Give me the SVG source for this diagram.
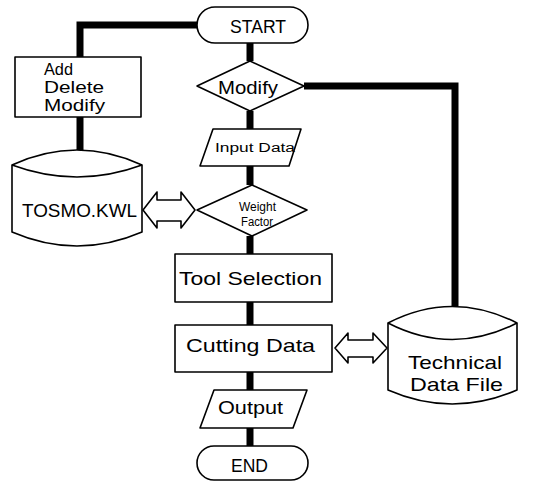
<svg xmlns="http://www.w3.org/2000/svg" width="540" height="481" viewBox="0 0 540 481">
  <style>
    .shape { fill: #ffffff; stroke: #000000; stroke-width: 1.6; stroke-linejoin: round; }
    .flow { fill: none; stroke: #000000; stroke-width: 7; stroke-linecap: butt; stroke-linejoin: miter; }
    .lbl { font-family: "Liberation Sans", Arial, sans-serif; fill: #000000; font-size: 19px; }
    .mid { font-size: 16px; }
    .sm { font-size: 12.5px; }
  </style>
  <rect width="540" height="481" fill="#ffffff"/>

  <!-- thick flow lines -->
  <g id="connectors">
    <polyline class="flow" points="199,25 80,25 80,57"/>
    <line class="flow" x1="80" y1="117" x2="80" y2="151"/>
    <line class="flow" x1="250" y1="43" x2="250" y2="61"/>
    <polyline class="flow" points="304,86 455,86 455,306"/>
    <line class="flow" x1="250" y1="111" x2="250" y2="129"/>
    <line class="flow" x1="250" y1="166" x2="250" y2="185"/>
    <line class="flow" x1="250" y1="236" x2="250" y2="254"/>
    <line class="flow" x1="250" y1="302" x2="250" y2="325"/>
    <line class="flow" x1="250" y1="372" x2="250" y2="390"/>
    <line class="flow" x1="250" y1="428" x2="250" y2="446"/>
    <!-- hollow two-way data arrows -->
    <path class="shape" d="M143,210 L157,192 L157,200 L181,200 L181,192 L195,210 L181,228 L181,221 L157,221 L157,228 Z"/>
    <path class="shape" d="M335,348 L348,333 L348,340 L373,340 L373,333 L387,348 L373,363 L373,357 L348,357 L348,363 Z"/>
  </g>

  <g id="start">
    <rect class="shape" x="197" y="7" width="111" height="36" rx="18" ry="18"/>
    <text class="lbl" x="230" y="33" textLength="56" lengthAdjust="spacingAndGlyphs">START</text>
  </g>

  <g id="edit-box">
    <rect class="shape" x="15" y="57" width="126" height="60"/>
    <text class="lbl mid" x="44" y="75" textLength="29" lengthAdjust="spacingAndGlyphs">Add</text>
    <text class="lbl mid" x="44" y="93" textLength="60" lengthAdjust="spacingAndGlyphs">Delete</text>
    <text class="lbl mid" x="44" y="111" textLength="61" lengthAdjust="spacingAndGlyphs">Modify</text>
  </g>

  <g id="modify">
    <polygon class="shape" points="197,86 250,61 304,86 250,111"/>
    <text class="lbl" x="218" y="94" textLength="60" lengthAdjust="spacingAndGlyphs">Modify</text>
  </g>

  <g id="input-data">
    <polygon class="shape" points="213,129 301,129 289,166 200,166"/>
    <text class="lbl sm" x="215" y="152" textLength="80" lengthAdjust="spacingAndGlyphs">Input Data</text>
  </g>

  <g id="tosmo">
    <path class="shape" d="M12,165 Q77,135 142,165 L142,232 Q77,260 12,232 Z"/>
    <path class="shape" fill="none" d="M12,165 Q77,189 142,165"/>
    <text class="lbl" x="22" y="217" textLength="115" lengthAdjust="spacingAndGlyphs">TOSMO.KWL</text>
  </g>

  <g id="weight-factor">
    <polygon class="shape" points="197,210 252,185 307,210 252,236"/>
    <text class="lbl sm" x="239" y="211" textLength="37" lengthAdjust="spacingAndGlyphs">Weight</text>
    <text class="lbl sm" x="241" y="226" textLength="32" lengthAdjust="spacingAndGlyphs">Factor</text>
  </g>

  <g id="tool-selection">
    <rect class="shape" x="175" y="254" width="157" height="48"/>
    <text class="lbl" x="179" y="285" textLength="143" lengthAdjust="spacingAndGlyphs">Tool Selection</text>
  </g>

  <g id="cutting-data">
    <rect class="shape" x="175" y="325" width="157" height="47"/>
    <text class="lbl" x="186" y="352" textLength="129" lengthAdjust="spacingAndGlyphs">Cutting Data</text>
  </g>

  <g id="technical-data-file">
    <path class="shape" d="M388,323 Q452,290 517,323 L517,390 Q452,418 388,390 Z"/>
    <path class="shape" fill="none" d="M388,323 Q452,356 517,323"/>
    <text class="lbl" x="408" y="369" textLength="94" lengthAdjust="spacingAndGlyphs">Technical</text>
    <text class="lbl" x="410" y="391" textLength="93" lengthAdjust="spacingAndGlyphs">Data File</text>
  </g>

  <g id="output">
    <polygon class="shape" points="214,390 307,390 293,428 200,428"/>
    <text class="lbl" x="218" y="414" textLength="65" lengthAdjust="spacingAndGlyphs">Output</text>
  </g>

  <g id="end">
    <rect class="shape" x="197" y="446" width="111" height="34" rx="17" ry="17"/>
    <text class="lbl" x="231" y="472" textLength="37" lengthAdjust="spacingAndGlyphs">END</text>
  </g>
</svg>
